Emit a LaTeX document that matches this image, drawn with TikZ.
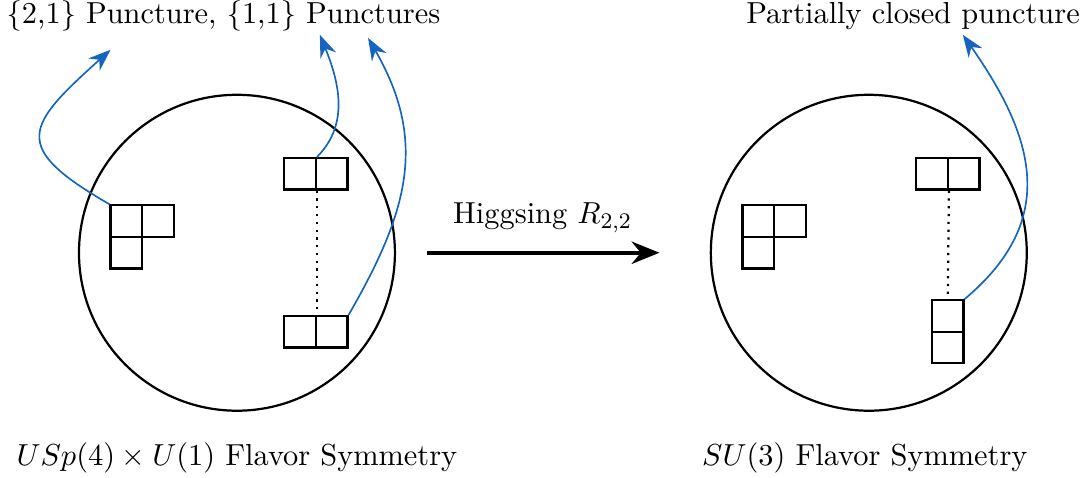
\documentclass[tikz,border=0pt,11pt]{standalone}
\usetikzlibrary{arrows.meta}
\definecolor{pblue}{RGB}{21,101,192}
\begin{document}
\begin{tikzpicture}[ybox/.style={draw,thick,minimum size=0.4cm,inner sep=0pt},
    parr/.style={pblue,semithick,-{Stealth[length=8pt,width=6pt]}}]
      \useasboundingbox (-3.0,-2.85) rectangle (10.75,3.2);
      \draw[thick] (0,0) circle (2);
      \draw[thick] (8,0) circle (2);
      % left sphere
      \node[ybox] (la) at (-1.4,0.4) {};
      \node[ybox] (lb) at (-1.0,0.4) {};
      \node[ybox] (lc) at (-1.4,0) {};
      \node[ybox] (lt1) at (0.8,1.0) {};
      \node[ybox] (lt2) at (1.2,1.0) {};
      \node[ybox] (lu1) at (0.8,-1.0) {};
      \node[ybox] (lu2) at (1.2,-1.0) {};
      \draw[thick,dotted] (lt1.south east) -- (lu1.north east);
      % right sphere
      \node[ybox] (ra) at (6.6,0.4) {};
      \node[ybox] (rb) at (7.0,0.4) {};
      \node[ybox] (rc) at (6.6,0) {};
      \node[ybox] (rt1) at (8.8,1.0) {};
      \node[ybox] (rt2) at (9.2,1.0) {};
      \node[ybox] (rv1) at (9.0,-0.8) {};
      \node[ybox] (rv2) at (9.0,-1.2) {};
      \draw[thick,dotted] (rt1.south east) -- (rv1.north);
      % higgsing
      \coordinate (hs) at (2.4,0);
      \coordinate (he) at (5.35,0);
      \draw[ultra thick,-{Stealth[length=10pt,width=8pt]}] (hs) -- (he);
      \node (hl) at (3.87,0.44) {Higgsing $R_{2,2}$};
      % labels
      \node (top1) at (-0.17,3.0) {\{2,1\} Puncture, \{1,1\} Punctures};
      \node (top2) at (8.56,3.0) {Partially closed puncture};
      \node (bot1) at (0,-2.6) {$USp(4)\times U(1)$ Flavor Symmetry};
      \node (bot2) at (7.95,-2.6) {$SU(3)$ Flavor Symmetry};
      \coordinate (p1) at (-1.6,2.57);
      \coordinate (p2) at (1.05,2.76);
      \coordinate (p3) at (1.66,2.72);
      \coordinate (p4) at (9.19,2.76);
      \draw[parr] (la.north west) to[out=150,in=222,looseness=1.9] (p1);
      \draw[parr] (lt1.north east) to[out=45,in=-68] (p2);
      \draw[parr] (lu2.north east) to[out=60,in=-60,looseness=1.1] (p3);
      \draw[parr] (rv1.north east) to[out=40,in=-55,looseness=1.2] (p4);
\end{tikzpicture}
\end{document}
